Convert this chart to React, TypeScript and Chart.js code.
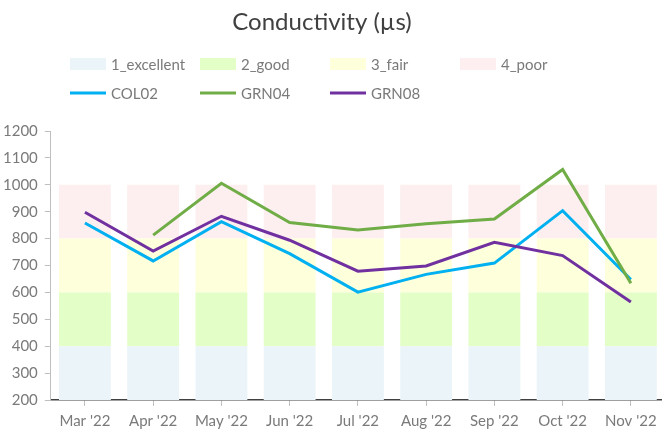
import React, { useEffect, useRef } from "react";
import { Chart, registerables } from "chart.js";

Chart.register(...registerables);

const categories = ["Mar '22", "Apr '22", "May '22", "Jun '22", "Jul '22", "Aug '22", "Sep '22", "Oct '22", "Nov '22"];
const excellentBand = [400, 400, 400, 400, 400, 400, 400, 400, 400];
const goodBand = [200, 200, 200, 200, 200, 200, 200, 200, 200];
const fairBand = [200, 200, 200, 200, 200, 200, 200, 200, 200];
const poorBand = [200, 200, 200, 200, 200, 200, 200, 200, 200];
const col02 = [858, 717, 863, 744, 601, 667, 709, 904, 648];
const grn04 = [null, 813, 1006, 860, 832, 855, 873, 1057, 634];
const grn08 = [898, 754, 883, 794, 679, 698, 786, 737, 564];
const yTicks = [200, 300, 400, 500, 600, 700, 800, 900, 1000, 1100, 1200];
const chartTitle = "Conductivity (µs)";

const FONT = "Lato, 'Open Sans', sans-serif";

const legendPlugin = {
  id: "customLegend",
  afterDraw(chart: any) {
    const ctx = chart.ctx;
    const ds = chart.data.datasets;
    ctx.save();
    ctx.textBaseline = "middle";
    ctx.textAlign = "center";
    ctx.font = `24px ${FONT}`;
    ctx.fillStyle = "#404040";
    ctx.fillText(chartTitle, 322, 22);
    ctx.textAlign = "left";
    ctx.font = `15px ${FONT}`;
    ctx.fillStyle = "#7a7a7a";
    const colX = [70, 200, 330, 460];
    const bars = ds.filter((d: any) => d.type === "bar");
    const lines = ds.filter((d: any) => d.type === "line");
    bars.forEach((d: any, i: number) => {
      const x = colX[i];
      const y = 64;
      ctx.fillStyle = d.backgroundColor;
      ctx.fillRect(x, y - 6, 36, 12);
      ctx.fillStyle = "#7a7a7a";
      ctx.fillText(d.label, x + 41, y + 1);
    });
    lines.forEach((d: any, i: number) => {
      const x = colX[i];
      const y = 93;
      ctx.strokeStyle = d.borderColor;
      ctx.lineWidth = 3;
      ctx.beginPath();
      ctx.moveTo(x, y);
      ctx.lineTo(x + 36, y);
      ctx.stroke();
      ctx.fillStyle = "#7a7a7a";
      ctx.fillText(d.label, x + 41, y + 1);
    });
    ctx.restore();
  },
};

export default function App() {
  const ref = useRef<HTMLCanvasElement>(null);
  useEffect(() => {
    if (!ref.current) return;
    const barDs = (label: string, data: number[], color: string) => ({
      type: "bar" as const,
      label,
      data,
      backgroundColor: color,
      borderWidth: 0,
      stack: "bands",
      order: 10,
      barPercentage: 1,
      categoryPercentage: 0.76,
    });
    const lineDs = (label: string, data: (number | null)[], color: string, stack: string, order: number) => ({
      type: "line" as const,
      label,
      data,
      borderColor: color,
      backgroundColor: color,
      borderWidth: 3,
      pointRadius: 0,
      tension: 0,
      spanGaps: false,
      stack,
      order,
      fill: false,
    });
    const chart = new Chart(ref.current, {
      type: "bar",
      data: {
        labels: categories,
        datasets: [
          barDs("1_excellent", excellentBand, "#EBF5F9"),
          barDs("2_good", goodBand, "#E3FEC7"),
          barDs("3_fair", fairBand, "#FEFFDB"),
          barDs("4_poor", poorBand, "#FDEFEF"),
          lineDs("COL02", col02, "#00B0F0", "l0", 2),
          lineDs("GRN04", grn04, "#70AD47", "l1", 1),
          lineDs("GRN08", grn08, "#7030A0", "l2", 0),
        ] as any,
      },
      options: {
        animation: false,
        responsive: true,
        maintainAspectRatio: false,
        layout: { padding: { left: -4, right: 3, top: 131, bottom: 2 } },
        plugins: {
          legend: { display: false },
          tooltip: { enabled: false },
          title: { display: false },
        },
        scales: {
          x: {
            stacked: true,
            grid: {
              display: true,
              drawOnChartArea: false,
              drawTicks: true,
              tickLength: 6,
              color: "#BFBFBF",
              offset: false,
            },
            border: { display: true, color: "#404040", width: 1.5 },
            ticks: {
              color: "#7a7a7a",
              font: { family: FONT, size: 15 },
              padding: 6,
              maxRotation: 0,
            },
          },
          y: {
            stacked: true,
            min: 200,
            max: 1200,
            afterBuildTicks: (scale: any) => {
              scale.ticks = yTicks.map((v) => ({ value: v }));
            },
            grid: {
              display: true,
              drawOnChartArea: false,
              drawTicks: true,
              tickLength: 6,
              color: "#BFBFBF",
            },
            border: { display: true, color: "#BFBFBF", width: 1 },
            ticks: {
              color: "#7a7a7a",
              font: { family: FONT, size: 15 },
              padding: 7,
              callback: (v: any) => String(v),
            },
          },
        },
      },
      plugins: [legendPlugin],
    });
    return () => chart.destroy();
  }, []);
  return (
    <div style={{ position: "fixed", left: 0, top: 0, width: 662, height: 430, overflow: "hidden", background: "#fff" }}>
      <div style={{ position: "relative", width: 668, height: 438 }}>
        <canvas ref={ref} />
      </div>
    </div>
  );
}
